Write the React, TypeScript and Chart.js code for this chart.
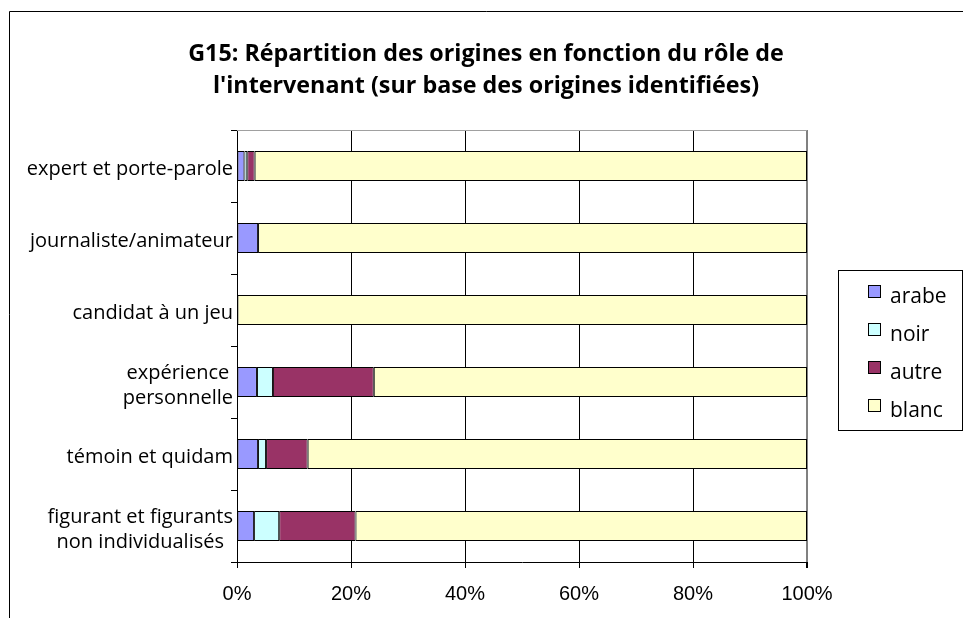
import React, { useEffect, useRef } from "react";
import { Chart, registerables } from "chart.js";

Chart.register(...registerables);

const titleLines = [
  "G15: Répartition des origines en fonction du rôle de",
  "l'intervenant (sur base des origines identifiées)",
];
const categories: string[][] = [
  ["expert et porte-parole"],
  ["journaliste/animateur"],
  ["candidat à un jeu"],
  ["expérience", "personnelle"],
  ["témoin et quidam"],
  ["figurant et figurants", "non individualisés"],
];
const seriesNames = ["arabe", "noir", "autre", "blanc"];
const arabe = [1.3, 3.7, 0, 3.5, 3.7, 3.0];
const noir = [0.5, 0, 0, 2.8, 1.4, 4.4];
const autre = [1.3, 0, 0, 17.7, 7.3, 13.4];
const blanc = [96.9, 96.3, 100, 76.0, 87.6, 79.2];
const xTickValues = [0, 20, 40, 60, 80, 100];
const seriesColors = ["#9999FF", "#CCFFFF", "#993366", "#FFFFCC"];

const LABEL_FONT = '20px "Open Sans"';
const LEGEND_FONT = '21px "Open Sans"';
const TITLE_FONT = 'bold 23.3px "Open Sans"';

const overlayPlugin = {
  id: "overlay",
  afterDraw(chart: any) {
    const ctx = chart.ctx as CanvasRenderingContext2D;
    const area = chart.chartArea;
    const yScale = chart.scales.y;
    ctx.save();

    // outer chart frame
    ctx.strokeStyle = "#000";
    ctx.lineWidth = 1;
    ctx.beginPath();
    ctx.moveTo(9.5, 618);
    ctx.lineTo(9.5, 11.5);
    ctx.lineTo(963, 11.5);
    ctx.stroke();

    // plot area top border
    ctx.strokeStyle = "#A0A0A0";
    ctx.beginPath();
    ctx.moveTo(area.left, Math.round(area.top) + 0.5);
    ctx.lineTo(area.right, Math.round(area.top) + 0.5);
    ctx.stroke();

    // title
    ctx.fillStyle = "#000";
    ctx.font = TITLE_FONT;
    ctx.textAlign = "center";
    ctx.textBaseline = "alphabetic";
    titleLines.forEach((line, i) => {
      ctx.fillText(line, 486, 61 + i * 32);
    });

    // category labels
    ctx.font = LABEL_FONT;
    const rightEdge = area.left - 4;
    chart.data.labels.forEach((lab: string[], i: number) => {
      const lines = Array.isArray(lab) ? lab : [lab];
      const w = Math.max(...lines.map((l) => ctx.measureText(l).width));
      const cx = rightEdge - w / 2;
      const cy = yScale.getPixelForValue(i);
      ctx.textAlign = "center";
      lines.forEach((l, k) => {
        ctx.fillText(l, cx, cy + 9 + (k - (lines.length - 1) / 2) * 25);
      });
    });

    // legend
    const lx = 838.5, ly = 270.5, lw = 124, lh = 160;
    ctx.strokeStyle = "#000";
    ctx.lineWidth = 1;
    ctx.strokeRect(lx, ly, lw, lh);
    ctx.font = LEGEND_FONT;
    ctx.textAlign = "left";
    chart.data.datasets.forEach((ds: any, i: number) => {
      const row = 293 + i * 38;
      ctx.fillStyle = ds.backgroundColor;
      ctx.fillRect(868, row - 8, 13, 13);
      ctx.strokeStyle = "#000";
      ctx.strokeRect(868.5, row - 7.5, 12, 12);
      ctx.fillStyle = "#000";
      ctx.fillText(ds.label, 890, row + 9.5);
    });

    ctx.restore();
  },
};

export default function App() {
  const ref = useRef<HTMLCanvasElement | null>(null);

  useEffect(() => {
    if (!ref.current) return;
    const series = [arabe, noir, autre, blanc];
    const chart = new Chart(ref.current, {
      type: "bar",
      data: {
        labels: categories as any,
        datasets: series.map((d, i) => ({
          label: seriesNames[i],
          data: d,
          backgroundColor: seriesColors[i],
          borderColor: "#000",
          borderWidth: 1,
          borderSkipped: false,
          barPercentage: 0.417,
          categoryPercentage: 1,
        })),
      },
      options: {
        indexAxis: "y",
        responsive: false,
        animation: false,
        events: [],
        layout: { padding: { left: 237, top: 130, right: 156, bottom: 6 } },
        plugins: {
          legend: { display: false },
          title: { display: false },
          tooltip: { enabled: false },
        },
        scales: {
          x: {
            type: "linear",
            stacked: true,
            min: 0,
            max: 100,
            afterBuildTicks: (scale: any) => {
              scale.ticks = xTickValues.map((v) => ({ value: v }));
            },
            afterFit: (scale: any) => {
              scale.height = 50;
            },
            ticks: {
              callback: (v: any) => v + "%",
              color: "#000",
              font: { family: '"Liberation Sans", Arial', size: 20 },
              padding: 14,
              maxRotation: 0,
            },
            grid: {
              color: (c: any) => (c.tick && c.tick.value === 100 ? "#808080" : "#000"),
              lineWidth: (c: any) => (c.tick && c.tick.value === 100 ? 2 : 1),
              drawTicks: true,
              tickLength: 6,
              tickColor: "#000",
            },
            border: { display: true, color: "#000" },
          },
          y: {
            type: "category",
            stacked: true,
            afterFit: (scale: any) => {
              scale.width = 0;
            },
            ticks: { display: false },
            grid: {
              offset: true,
              drawOnChartArea: false,
              drawTicks: true,
              tickLength: 6,
              color: "#000",
            },
            border: { display: true, color: "#000" },
          },
        },
      } as any,
      plugins: [overlayPlugin],
    });
    return () => chart.destroy();
  }, []);

  return (
    <div style={{ position: "absolute", left: 0, top: 0, width: 963, height: 618 }}>
      <canvas ref={ref} width={963} height={618} style={{ width: 963, height: 618, display: "block" }} />
    </div>
  );
}
